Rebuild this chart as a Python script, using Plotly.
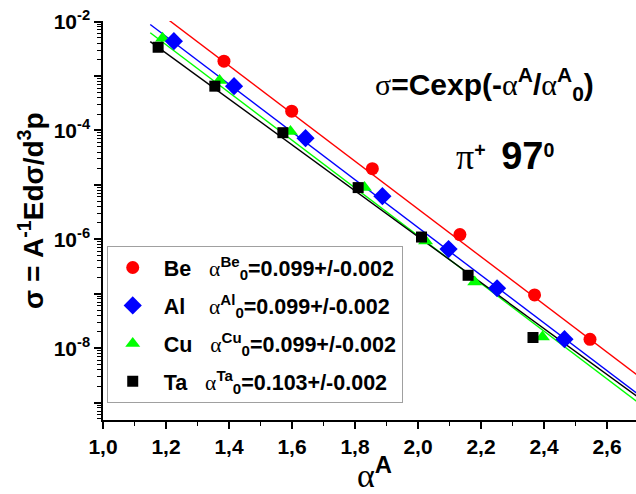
import numpy as np
import plotly.graph_objects as go

# ---- data ----
alpha_Be = [1.384, 1.599, 1.855, 2.133, 2.370, 2.546]
sigma_Be = [1.87e-3, 2.26e-4, 1.98e-5, 1.22e-6, 9.5e-8, 1.45e-8]
alpha_Al = [1.225, 1.416, 1.643, 1.887, 2.097, 2.251, 2.465]
sigma_Al = [4.36e-3, 6.5e-4, 7.2e-5, 6.2e-6, 6.6e-7, 1.26e-7, 1.46e-8]
alpha_Cu = [1.189, 1.370, 1.595, 1.830, 2.024, 2.180, 2.395]
sigma_Cu = [4.94e-3, 8.3e-4, 9.6e-5, 8.9e-6, 9.3e-7, 1.65e-7, 1.61e-8]
alpha_Ta = [1.175, 1.355, 1.571, 1.810, 2.011, 2.159, 2.365]
sigma_Ta = [3.37e-3, 6.5e-4, 9.08e-5, 8.9e-6, 1.10e-6, 2.18e-7, 1.57e-8]

targets = ["Be", "Al", "Cu", "Ta"]
alpha0 = [0.099, 0.099, 0.099, 0.103]
alpha0_err = [0.002, 0.002, 0.002, 0.002]
log10C = [3.33, 2.99, 2.84, 2.48]
fit_range = [1.15, 2.75]

x_ticks = [1.0, 1.2, 1.4, 1.6, 1.8, 2.0, 2.2, 2.4, 2.6]
y_decades = [-9, -8, -7, -6, -5, -4, -3, -2]
y_labelled = [-8, -6, -4, -2]

# ---- styling ----
colors = {"Be": "#ff0000", "Al": "#0000ff", "Cu": "#00ff00", "Ta": "#000000"}
symbols = {"Be": "circle", "Al": "diamond", "Cu": "triangle-up", "Ta": "square"}
msize = {"Be": 13, "Al": 14, "Cu": 13, "Ta": 11}
rank = {"Be": 1, "Al": 2, "Cu": 3, "Ta": 4}
pad = {"Be": 3, "Al": 4, "Cu": 3, "Ta": 3}
data = {"Be": (alpha_Be, sigma_Be), "Al": (alpha_Al, sigma_Al),
        "Cu": (alpha_Cu, sigma_Cu), "Ta": (alpha_Ta, sigma_Ta)}
SANS = "Liberation Sans, Arial, sans-serif"
GREEK = "font-family:Liberation Serif;font-weight:normal"
NB = "\u00a0"

fig = go.Figure()

# fit lines
xf = np.array(fit_range)
for t, a0, lc in zip(targets, alpha0, log10C):
    yf = 10 ** lc * np.exp(-xf / a0)
    fig.add_trace(go.Scatter(x=xf, y=yf, mode="lines", showlegend=False,
                             line=dict(color=colors[t], width=1.4), hoverinfo="skip"))

# markers in drawing order
for t in ["Cu", "Ta", "Al", "Be"]:
    i = targets.index(t)
    label = (NB + f"{t}" + NB * pad[t] +
             f"<span style='{GREEK}'>α</span><sup>{t}</sup><sub>0</sub>"
             f"={alpha0[i]:.3f}+/-{alpha0_err[i]:.3f}")
    xs, ys = data[t]
    fig.add_trace(go.Scatter(x=xs, y=ys, mode="markers", name=label,
                             legendrank=rank[t], legendgroup=t,
                             marker=dict(color=colors[t], symbol=symbols[t],
                                         size=msize[t], line=dict(width=0))))

minor_vals = [k * 10.0 ** e for e in range(-10, -1) for k in range(2, 10)]

fig.update_layout(
    width=636, height=494,
    margin=dict(l=103, r=0, t=21, b=74),
    paper_bgcolor="white", plot_bgcolor="white",
    separators=",.",
    font=dict(family=SANS, color="black"),
    xaxis=dict(range=[1.0, 2.692], tickvals=x_ticks, tickformat=".1f",
               ticks="outside", ticklen=7, tickwidth=1.5, tickcolor="black",
               showline=True, linewidth=1.5, linecolor="black",
               showgrid=False, zeroline=False, automargin=False,
               tickfont=dict(family=SANS, size=21, weight="bold"),
               minor=dict(dtick=0.1, tick0=1.0, ticks="outside", ticklen=4,
                          tickwidth=1.2, tickcolor="black", showgrid=False)),
    yaxis=dict(type="log", range=[-9.32, -1.99],
               tickvals=[10.0 ** e for e in y_decades],
               ticktext=[(f"10<sup>{e}</sup>" if e in y_labelled else "") for e in y_decades],
               ticks="outside", ticklen=7, tickwidth=1.5, tickcolor="black",
               showline=True, linewidth=1.5, linecolor="black",
               showgrid=False, zeroline=False, automargin=False,
               tickfont=dict(family=SANS, size=21, weight="bold"),
               minor=dict(tickvals=minor_vals, ticks="outside", ticklen=4,
                          tickwidth=1, tickcolor="black", showgrid=False)),
    legend=dict(x=0.007, y=0.436, xanchor="left", yanchor="top",
                bordercolor="#a0a0a0", borderwidth=1, bgcolor="white",
                font=dict(family=SANS, size=21.5, weight="bold", color="black"),
                itemwidth=40, tracegroupgap=7, traceorder="grouped"),
)

fig.add_annotation(xref="paper", yref="paper", x=(31 - 103) / 533, y=(420 - 211) / 399,
                   text="σ = A<sup>-1</sup>Edσ/d<sup>3</sup>p", textangle=-90,
                   showarrow=False, xanchor="center", yanchor="middle",
                   font=dict(family=SANS, size=28, weight="bold"))
fig.add_annotation(xref="paper", yref="paper", x=(374 - 103) / 533, y=(420 - 472) / 399,
                   text=f"<span style='{GREEK}'>α</span><sup><b>A</b></sup>",
                   showarrow=False, xanchor="center", yanchor="middle",
                   font=dict(family=SANS, size=34))
fig.add_annotation(xref="paper", yref="paper", x=(484 - 103) / 533, y=(420 - 84) / 399,
                   text=(f"<span style='{GREEK}'>σ</span>=Cexp(-<span style='{GREEK}'>α</span>"
                         f"<sup>A</sup>/<span style='{GREEK}'>α</span><sup>A</sup><sub>0</sub>)"),
                   showarrow=False, xanchor="center", yanchor="middle",
                   font=dict(family=SANS, size=30, weight="bold"))
fig.add_annotation(xref="paper", yref="paper", x=(505 - 103) / 533, y=(420 - 156) / 399,
                   text=(f"<span style='{GREEK};font-size:36px'>π</span><sup>+</sup>"
                         f"{NB}{NB}<span style='font-size:38px'>97</span><sup>0</sup>"),
                   showarrow=False, xanchor="center", yanchor="middle",
                   font=dict(family=SANS, size=28, weight="bold"))

fig.write_html("out.html")
